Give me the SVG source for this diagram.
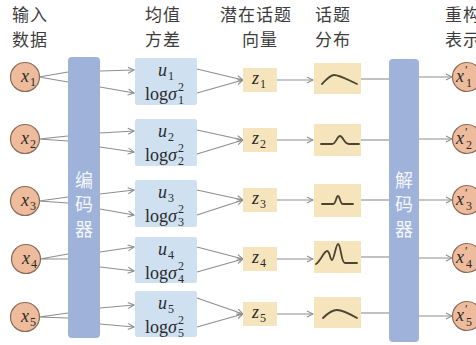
<svg xmlns="http://www.w3.org/2000/svg" width="476" height="345" viewBox="0 0 476 345">
<defs>
<style>
.hd{font-family:"Noto Sans CJK SC","Noto Sans",sans-serif;font-size:17px;letter-spacing:1px;fill:#3d3d3d}
.bar{fill:#9fb3da}
.bt{font-family:"Noto Sans CJK SC",sans-serif;font-size:18px;fill:#ffffff;fill-opacity:0.9;text-anchor:middle}
.cir{fill:#eebb9d;stroke:#8a6b57;stroke-width:1.2}
.mu{fill:#cfe0f1}
.zb{fill:#f6e4bc}
.mi{font-family:"Liberation Serif",serif;font-style:italic;font-size:18px;fill:#2a2a2a}
.rm{font-family:"Liberation Serif",serif;font-size:18px;fill:#2a2a2a}
.sm{font-family:"Liberation Serif",serif;font-size:12px;fill:#2a2a2a}
.ln{stroke:#8e8e8e;stroke-width:1.1;fill:none}
.ar{stroke:#8e8e8e;stroke-width:1.1;fill:none;marker-end:url(#ah)}
.cv{stroke:#4a4530;stroke-width:1.8;fill:none;stroke-linecap:round;stroke-linejoin:round}
</style>
<marker id="ah" viewBox="0 0 8 8" refX="7" refY="4" markerWidth="8" markerHeight="8" markerUnits="userSpaceOnUse" orient="auto">
<path d="M1,1 L7,4 L1,7" fill="none" stroke="#8e8e8e" stroke-width="1.1"/>
</marker>
</defs>
<rect width="476" height="345" fill="#ffffff"/>

<g id="headers">
<text class="hd" x="12" y="21">输入</text>
<text class="hd" x="12" y="46">数据</text>
<text class="hd" x="145" y="21">均值</text>
<text class="hd" x="145" y="46">方差</text>
<text class="hd" x="220" y="21">潜在话题</text>
<text class="hd" x="242" y="46">向量</text>
<text class="hd" x="315" y="21">话题</text>
<text class="hd" x="315" y="46">分布</text>
<text class="hd" x="445" y="21">重构</text>
<text class="hd" x="445" y="46">表示</text>
</g>

<g id="connectors">
<path class="ln" d="M39,77 L68,72 M39,77 L68,82"/>
<path class="ln" d="M39,139 L68,136 M39,139 L68,141"/>
<path class="ln" d="M39,201 L68,197 M39,201 L68,203"/>
<path class="ln" d="M40,259 L68,254 M40,259 L68,259"/>
<path class="ln" d="M39,317 L68,313 M39,317 L68,318"/>

<line class="ar" x1="100" y1="71" x2="134" y2="70"/>
<line class="ar" x1="100" y1="87" x2="134" y2="93"/>
<line class="ar" x1="100" y1="133" x2="134" y2="131"/>
<line class="ar" x1="100" y1="147" x2="134" y2="152"/>
<line class="ar" x1="100" y1="194" x2="134" y2="190"/>
<line class="ar" x1="100" y1="209" x2="134" y2="215"/>
<line class="ar" x1="100" y1="252" x2="134" y2="247"/>
<line class="ar" x1="100" y1="267" x2="134" y2="271"/>
<line class="ar" x1="100" y1="308" x2="134" y2="305"/>
<line class="ar" x1="100" y1="324" x2="134" y2="327"/>

<line class="ar" x1="197" y1="69" x2="243" y2="80"/>
<line class="ar" x1="197" y1="93" x2="243" y2="80"/>
<line class="ar" x1="197" y1="130" x2="243" y2="140"/>
<line class="ar" x1="197" y1="154" x2="243" y2="140"/>
<line class="ar" x1="197" y1="190" x2="243" y2="200"/>
<line class="ar" x1="197" y1="215" x2="243" y2="200"/>
<line class="ar" x1="197" y1="247" x2="243" y2="259"/>
<line class="ar" x1="197" y1="272" x2="243" y2="259"/>
<line class="ar" x1="197" y1="298" x2="243" y2="314"/>
<line class="ar" x1="197" y1="327" x2="243" y2="314"/>

<line class="ar" x1="277" y1="80" x2="313" y2="80"/>
<line class="ar" x1="277" y1="140" x2="313" y2="140"/>
<line class="ar" x1="277" y1="200" x2="313" y2="200"/>
<line class="ar" x1="277" y1="259" x2="313" y2="259"/>
<line class="ar" x1="277" y1="314" x2="313" y2="314"/>

<line class="ln" x1="361" y1="79" x2="389" y2="79"/>
<line class="ln" x1="361" y1="140" x2="389" y2="140"/>
<line class="ln" x1="361" y1="200" x2="389" y2="200"/>
<line class="ln" x1="361" y1="257" x2="389" y2="257"/>
<line class="ln" x1="361" y1="313" x2="389" y2="313"/>

<line class="ar" x1="419" y1="77" x2="452" y2="77"/>
<line class="ar" x1="419" y1="139" x2="452" y2="139"/>
<line class="ar" x1="419" y1="200" x2="452" y2="200"/>
<line class="ar" x1="419" y1="258" x2="452" y2="258"/>
<line class="ar" x1="419" y1="316" x2="452" y2="316"/>
</g>

<g id="inputs">
<g id="x1"><circle class="cir" cx="25" cy="77" r="14.5"/><text class="mi" x="21" y="82">x</text><text class="sm" x="30" y="86">1</text></g>
<g id="x2"><circle class="cir" cx="25" cy="139" r="14.5"/><text class="mi" x="21" y="144">x</text><text class="sm" x="30" y="148">2</text></g>
<g id="x3"><circle class="cir" cx="25" cy="201" r="14.5"/><text class="mi" x="21" y="206">x</text><text class="sm" x="30" y="210">3</text></g>
<g id="x4"><circle class="cir" cx="26" cy="259" r="14.5"/><text class="mi" x="22" y="264">x</text><text class="sm" x="31" y="268">4</text></g>
<g id="x5"><circle class="cir" cx="25" cy="317" r="14.5"/><text class="mi" x="21" y="322">x</text><text class="sm" x="30" y="326">5</text></g>
</g>

<g id="encoder">
<rect class="bar" x="68" y="57" width="32" height="281" rx="4"/>
<text class="bt" x="84" y="187">编</text>
<text class="bt" x="84" y="211">码</text>
<text class="bt" x="84" y="236">器</text>
</g>

<g id="musigma">
<g id="ms1"><rect class="mu" x="135" y="58" width="62" height="47" rx="2"/><text class="mi" x="158" y="76">u</text><text class="sm" x="168" y="80">1</text><text class="rm" x="145" y="100">log<tspan class="mi">σ</tspan></text><text class="sm" x="178" y="91">2</text><text class="sm" x="178" y="104">1</text></g>
<g id="ms2"><rect class="mu" x="135" y="119" width="62" height="47" rx="2"/><text class="mi" x="158" y="137">u</text><text class="sm" x="168" y="141">2</text><text class="rm" x="145" y="161">log<tspan class="mi">σ</tspan></text><text class="sm" x="178" y="152">2</text><text class="sm" x="178" y="165">2</text></g>
<g id="ms3"><rect class="mu" x="135" y="180" width="62" height="47" rx="2"/><text class="mi" x="158" y="198">u</text><text class="sm" x="168" y="202">3</text><text class="rm" x="145" y="222">log<tspan class="mi">σ</tspan></text><text class="sm" x="178" y="213">2</text><text class="sm" x="178" y="226">3</text></g>
<g id="ms4"><rect class="mu" x="135" y="237" width="62" height="46" rx="2"/><text class="mi" x="158" y="255">u</text><text class="sm" x="168" y="259">4</text><text class="rm" x="145" y="279">log<tspan class="mi">σ</tspan></text><text class="sm" x="178" y="270">2</text><text class="sm" x="178" y="283">4</text></g>
<g id="ms5"><rect class="mu" x="135" y="291" width="62" height="46" rx="2"/><text class="mi" x="158" y="309">u</text><text class="sm" x="168" y="313">5</text><text class="rm" x="145" y="333">log<tspan class="mi">σ</tspan></text><text class="sm" x="178" y="324">2</text><text class="sm" x="178" y="337">5</text></g>
</g>

<g id="latent">
<g id="z1"><rect class="zb" x="243" y="68" width="34" height="24"/><text class="mi" x="252" y="84">z</text><text class="sm" x="260" y="88">1</text></g>
<g id="z2"><rect class="zb" x="243" y="128" width="34" height="24"/><text class="mi" x="252" y="144">z</text><text class="sm" x="260" y="148">2</text></g>
<g id="z3"><rect class="zb" x="243" y="188" width="34" height="24"/><text class="mi" x="252" y="204">z</text><text class="sm" x="260" y="208">3</text></g>
<g id="z4"><rect class="zb" x="243" y="247" width="34" height="24"/><text class="mi" x="252" y="263">z</text><text class="sm" x="260" y="267">4</text></g>
<g id="z5"><rect class="zb" x="243" y="302" width="34" height="24"/><text class="mi" x="252" y="318">z</text><text class="sm" x="260" y="322">5</text></g>
</g>

<g id="topics">
<g id="t1"><rect class="zb" x="314" y="63" width="47" height="31"/><path class="cv" d="M322,84 C326,80 330,75 334,75 C340,75 350,81 357,84"/></g>
<g id="t2"><rect class="zb" x="314" y="124" width="47" height="32"/><path class="cv" d="M321,144 L332,144 C336,144 337,136 340,136 C343,136 344,144 349,144 L359,144"/></g>
<g id="t3"><rect class="zb" x="314" y="184" width="47" height="33"/><path class="cv" d="M322,204 L333,204 C336,204 336,196 338,196 C340,196 340,204 343,204 L353,204"/></g>
<g id="t4"><rect class="zb" x="314" y="241" width="47" height="32"/><path class="cv" d="M316,264 C320,262 324,251 327,251 C330,251 330,260 332,260 C334,260 336,244 338,244 C341,244 341,263 345,263 L357,263"/></g>
<g id="t5"><rect class="zb" x="314" y="297" width="47" height="31"/><path class="cv" d="M323,318 C328,313 333,310 337,310 C343,310 350,314 357,318"/></g>
</g>

<g id="decoder">
<rect class="bar" x="389" y="59" width="30" height="283" rx="4"/>
<text class="bt" x="404" y="187">解</text>
<text class="bt" x="404" y="211">码</text>
<text class="bt" x="404" y="236">器</text>
</g>

<g id="outputs">
<g id="o1"><circle class="cir" cx="467" cy="77" r="14.5"/><text class="mi" x="456" y="82">x</text><text class="sm" x="465" y="74">′</text><text class="sm" x="466" y="87">1</text></g>
<g id="o2"><circle class="cir" cx="467" cy="139" r="14.5"/><text class="mi" x="456" y="144">x</text><text class="sm" x="465" y="136">′</text><text class="sm" x="466" y="149">2</text></g>
<g id="o3"><circle class="cir" cx="467" cy="200" r="14.5"/><text class="mi" x="456" y="205">x</text><text class="sm" x="465" y="197">′</text><text class="sm" x="466" y="210">3</text></g>
<g id="o4"><circle class="cir" cx="467" cy="258" r="14.5"/><text class="mi" x="456" y="263">x</text><text class="sm" x="465" y="255">′</text><text class="sm" x="466" y="268">4</text></g>
<g id="o5"><circle class="cir" cx="467" cy="316" r="14.5"/><text class="mi" x="456" y="321">x</text><text class="sm" x="465" y="313">′</text><text class="sm" x="466" y="326">5</text></g>
</g>
</svg>
